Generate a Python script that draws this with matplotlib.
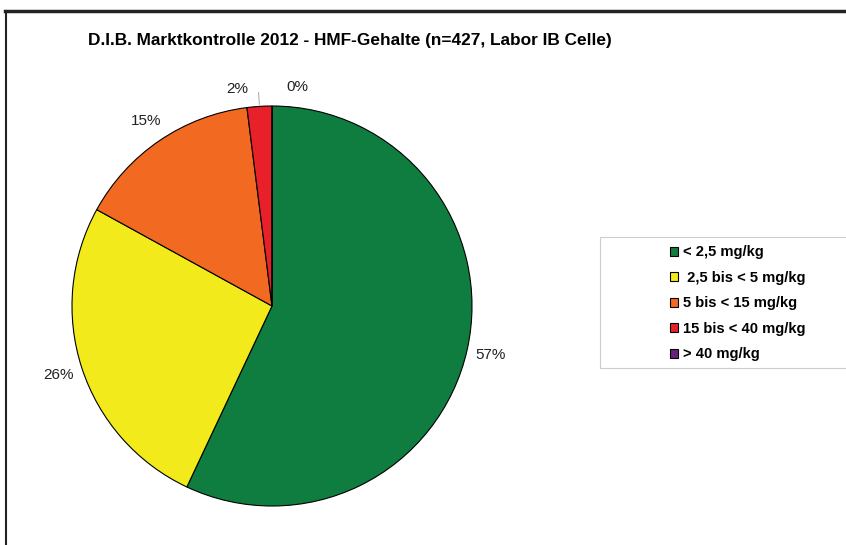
import matplotlib.pyplot as plt
import numpy as np
from matplotlib.lines import Line2D
from matplotlib.patches import Rectangle

plt.rcParams['font.family'] = ['Liberation Sans', 'DejaVu Sans']

# Anteile (%) der HMF-Klassen
klassen = ['< 2,5 mg/kg', ' 2,5 bis < 5 mg/kg', '5 bis < 15 mg/kg',
           '15 bis < 40 mg/kg', '> 40 mg/kg']
anteile = [57, 26, 15, 2, 0]
farben = ['#0e7d3f', '#f2ea1a', '#f26a21', '#e8202a', '#6a1f7a']

W, H = 846, 545
fig = plt.figure(figsize=(W / 100, H / 100), dpi=100)

# Kreis: Mitte (272, 306), Radius 200 px
cx, cy, r = 272, 306, 200
ax = fig.add_axes([(cx - r) / W, (H - cy - r) / H, 2 * r / W, 2 * r / H])

wedges, texts, autotexts = ax.pie(
    anteile, colors=farben, startangle=90, counterclock=False,
    autopct='%.0f%%', pctdistance=1.12,
    wedgeprops=dict(edgecolor='black', linewidth=0.8),
    textprops=dict(fontsize=11, color='#222222'))
ax.set_xlim(-1, 1)
ax.set_ylim(-1, 1)

# kleine Anteile oben etwas auseinanderziehen
for i, dwinkel in [(3, 5.5), (4, -6.5)]:
    w = wedges[i]
    mitte = np.deg2rad((w.theta1 + w.theta2) / 2 + dwinkel)
    autotexts[i].set_position((1.1 * np.cos(mitte), 1.1 * np.sin(mitte)))

# Hinweislinie für das kleine Segment
w = wedges[3]
m = np.deg2rad((w.theta1 + w.theta2) / 2)
ax.plot([1.01 * np.cos(m), 1.07 * np.cos(m)], [1.01 * np.sin(m), 1.07 * np.sin(m)],
        color='#999999', linewidth=0.6, clip_on=False)

fig.text(88 / W, 1 - 41 / H, 'D.I.B. Marktkontrolle 2012 - HMF-Gehalte (n=427, Labor IB Celle)',
         fontsize=12.4, fontweight='bold', va='center', ha='left')

# Legendenrahmen
fig.add_artist(Rectangle((600 / W, 1 - 368 / H), 260 / W, 131 / H,
                         transform=fig.transFigure, facecolor='white',
                         edgecolor='#cccccc', linewidth=0.8))
leg = fig.legend(wedges, klassen, loc='upper left',
                 bbox_to_anchor=(670 / W, 1 - 245.5 / H), frameon=False,
                 prop=dict(size=10.6, weight='bold'), handlelength=0.55,
                 handleheight=0.55, handletextpad=0.35, labelspacing=0.78,
                 borderaxespad=0, borderpad=0)

# Rand oben und links
fig.add_artist(Line2D([5 / W, 1], [1 - 10.5 / H, 1 - 10.5 / H],
                      transform=fig.transFigure, color='#222222', linewidth=2.5))
fig.add_artist(Line2D([6 / W, 6 / W], [0, 1 - 10.5 / H],
                      transform=fig.transFigure, color='#222222', linewidth=1.5))

fig.savefig('out.png', dpi=100)
